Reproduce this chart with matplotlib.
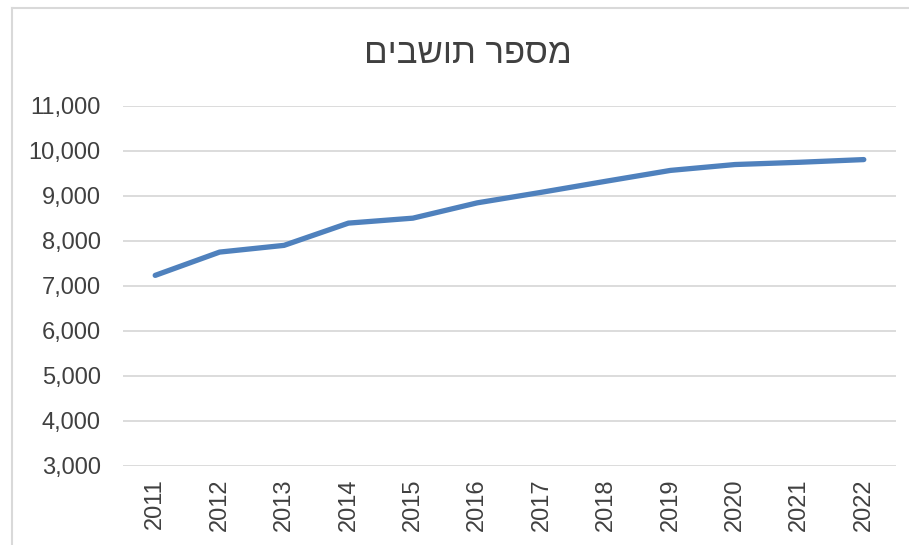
import matplotlib
matplotlib.use("Agg")
import matplotlib.pyplot as plt
from matplotlib.lines import Line2D

plt.rcParams['font.family'] = ['Liberation Sans', 'DejaVu Sans']

# נתונים
years = ['2011', '2012', '2013', '2014', '2015', '2016',
         '2017', '2018', '2019', '2020', '2021', '2022']
residents = [7230, 7747, 7896, 8390, 8500, 8840,
             9075, 9320, 9560, 9690, 9740, 9800]
y_ticks = [3000, 4000, 5000, 6000, 7000, 8000, 9000, 10000, 11000]
title = 'מספר תושבים'

fig = plt.figure(figsize=(9.09, 5.45), dpi=100)
ax = fig.add_axes([0.1353, 0.1450, 0.8504, 0.6614])

x = list(range(len(years)))
ax.plot(x, residents, color='#4f81bd', linewidth=3.8,
        solid_capstyle='round', solid_joinstyle='round', zorder=3)

ax.set_xlim(-0.5, len(years) - 0.5)
ax.set_ylim(3000, 11000)
ax.set_yticks(y_ticks)
ax.set_yticklabels([f'{v:,}' for v in y_ticks])
ax.set_xticks(x)
ax.set_xticklabels(years, rotation=90)
ax.tick_params(axis='both', length=0, labelsize=17, labelcolor='#404040')
ax.tick_params(axis='y', pad=16)
ax.tick_params(axis='x', pad=9)
ax.grid(axis='y', color='#d9d9d9', linewidth=1.3)
ax.set_axisbelow(True)
for s in ax.spines.values():
    s.set_visible(False)

# matplotlib לא הופך טקסט עברי, לכן ההיפוך לתצוגה
fig.text(0.5143, 1 - 63 / 545, title[::-1], ha='center', va='baseline',
         fontsize=25, color='#404040')

# מסגרת התרשים
fig.add_artist(Line2D([12 / 909, 12 / 909], [1 - 8 / 545, 0],
                      color='#d9d9d9', linewidth=1.5))
fig.add_artist(Line2D([12 / 909, 1], [1 - 8 / 545, 1 - 8 / 545],
                      color='#d9d9d9', linewidth=1.5))

fig.savefig('out.png', dpi=100)
